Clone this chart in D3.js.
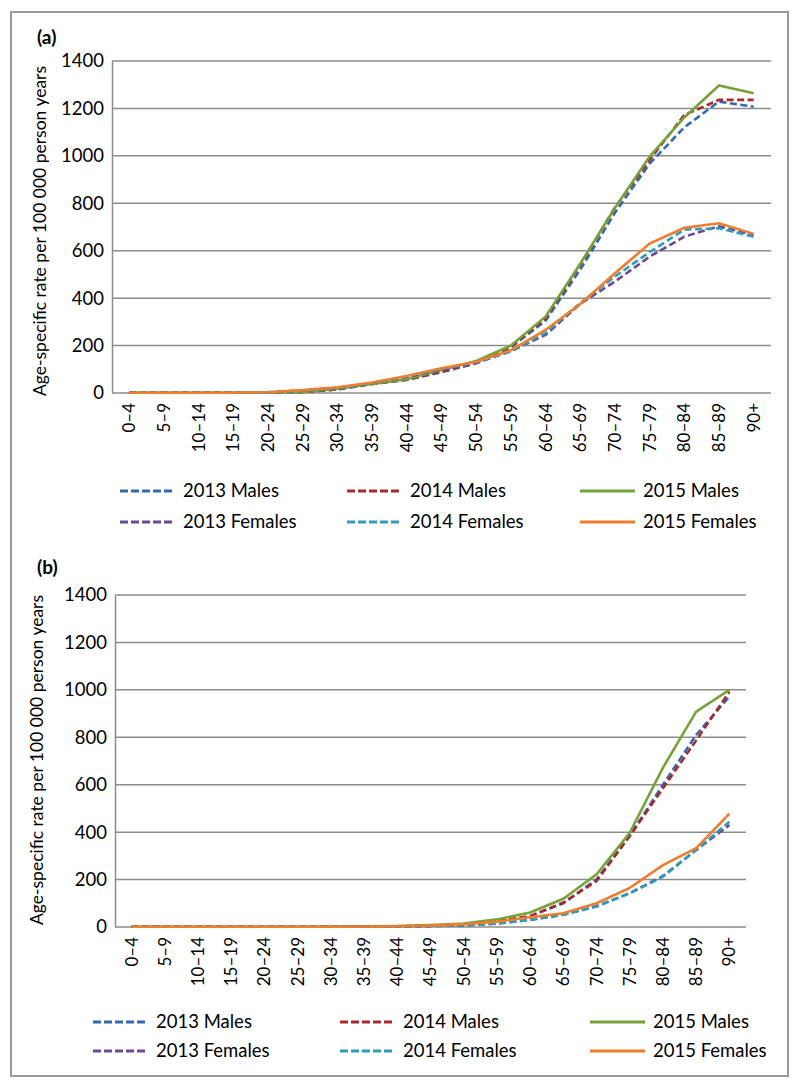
<!DOCTYPE html>
<html>
<head>
<meta charset="utf-8">
<script src="https://cdn.jsdelivr.net/npm/d3@7"></script>
<style>
  html, body { margin: 0; padding: 0; background: #fff; }
  svg { display: block; }
  text { font-family: Lato, "Open Sans", "Liberation Sans", sans-serif; fill: #000; }
</style>
</head>
<body>
<svg id="chart" width="800" height="1087"></svg>
<script>
// ---- Data ----
const ageGroups = ["0–4","5–9","10–14","15–19","20–24","25–29","30–34","35–39","40–44","45–49",
                   "50–54","55–59","60–64","65–69","70–74","75–79","80–84","85–89","90+"];
const yTicks = [0, 200, 400, 600, 800, 1000, 1200, 1400];
const seriesNames = ["2013 Males","2014 Males","2015 Males","2013 Females","2014 Females","2015 Females"];
const seriesColors = ["#3268B0","#A8282B","#77A23A","#6A4A94","#2E9CBB","#EE7D2E"];
const seriesDashed = [true, true, false, true, true, false];

// Panel (a)
const a2013Males   = [1,1,1,1,2,4,15,38,55,88,125,192,305,520,760,967,1120,1229,1207];
const a2014Males   = [1,1,1,1,2,4,15,38,56,90,127,196,315,540,782,983,1172,1236,1236];
const a2015Males   = [1,1,1,1,2,4,18,38,58,97,135,200,322,545,780,997,1162,1297,1264];
const a2013Females = [1,1,1,1,3,10,22,42,68,98,127,176,245,376,470,575,659,703,666];
const a2014Females = [1,1,1,1,3,10,22,42,70,102,130,176,253,380,491,594,689,695,659];
const a2015Females = [1,1,1,1,3,12,24,44,72,104,132,180,266,375,505,630,697,716,671];

// Panel (b)
const b2013Males   = [1,1,1,1,1,1,1,2,3,5,8,22,46,100,201,385,600,810,972];
const b2014Males   = [1,1,1,1,1,1,1,2,3,5,8,24,46,103,194,384,585,787,992];
const b2015Males   = [1,1,1,1,1,1,2,3,4,8,15,32,61,119,222,397,672,908,1000];
const b2013Females = [1,1,1,1,1,1,1,2,3,4,7,14,30,52,88,143,215,325,430];
const b2014Females = [1,1,1,1,1,1,1,2,3,4,7,15,30,52,86,142,212,325,444];
const b2015Females = [1,1,1,1,1,1,1,2,3,6,12,22,41,58,100,165,261,332,478];

const yLabelText = "Age-specific rate per 100 000 person years";

// ---- Drawing ----
const svg = d3.select("#chart");

// outer border
svg.append("rect")
  .attr("x", 11).attr("y", 12).attr("width", 777).attr("height", 1064)
  .attr("fill", "none").attr("stroke", "#9a9a9a").attr("stroke-width", 2);

function drawPanel(cfg) {
  const g = svg.append("g");
  const x = d3.scaleBand().domain(ageGroups).range([cfg.left, cfg.right]);
  const y = d3.scaleLinear().domain([0, 1400]).range([cfg.bottom, cfg.top]);

  // gridlines
  g.append("g").selectAll("line").data(yTicks).join("line")
    .attr("x1", cfg.left).attr("x2", cfg.right)
    .attr("y1", d => y(d)).attr("y2", d => y(d))
    .attr("stroke", "#8c8c8c").attr("stroke-width", 1.5);

  // y axis
  const yAxis = g.append("g").attr("transform", `translate(${cfg.left},0)`)
    .call(d3.axisLeft(y).tickValues(yTicks).tickSize(0).tickPadding(8).tickFormat(d3.format("d")));
  yAxis.select(".domain").attr("stroke", "#8c8c8c").attr("stroke-width", 1.5);
  yAxis.selectAll("text").style("font-size", "18.5px").style("font-family", "Lato, sans-serif");

  // x axis labels
  const xAxis = g.append("g").attr("transform", `translate(0,${cfg.bottom})`)
    .call(d3.axisBottom(x).tickSize(0).tickPadding(0));
  xAxis.select(".domain").remove();
  xAxis.selectAll("text")
    .style("font-size", "17px").style("font-family", "Lato, sans-serif")
    .attr("text-anchor", "end")
    .attr("dy", "0.35em")
    .attr("transform", "translate(0,10) rotate(-90)")
    .attr("x", 0).attr("y", 0);

  // panel label
  g.append("text").attr("x", cfg.labelX).attr("y", cfg.labelY)
    .style("font-size", "19px").style("font-weight", "bold").text(cfg.label);

  // y title
  g.append("text")
    .attr("transform", `translate(${cfg.titleX},${cfg.titleY}) rotate(-90)`)
    .attr("text-anchor", "middle").attr("dy", "0.35em")
    .style("font-size", "17.5px")
    .text(yLabelText);

  // lines
  const line = d3.line()
    .x((d, i) => x(ageGroups[i]) + x.bandwidth() / 2)
    .y(d => y(d));
  cfg.series.forEach((vals, k) => {
    g.append("path").datum(vals)
      .attr("d", line)
      .attr("fill", "none")
      .attr("stroke", seriesColors[k])
      .attr("stroke-width", 2.6)
      .attr("stroke-dasharray", seriesDashed[k] ? "7,3.5" : null);
  });

  // legend
  seriesNames.forEach((name, k) => {
    const col = k % 3, row = Math.floor(k / 3);
    const lx = cfg.legendX[col], ly = cfg.legendY[row];
    g.append("line")
      .attr("x1", lx).attr("x2", lx + 55).attr("y1", ly).attr("y2", ly)
      .attr("stroke", seriesColors[k]).attr("stroke-width", 3)
      .attr("stroke-dasharray", seriesDashed[k] ? "8,3" : null);
    g.append("text").attr("x", lx + 63).attr("y", ly).attr("dy", "0.35em")
      .style("font-size", "18.5px").text(name);
  });
}

drawPanel({
  left: 112, right: 771, top: 61, bottom: 393,
  label: "(a)", labelX: 37, labelY: 44,
  titleX: 40, titleY: 231,
  legendX: [120, 347, 580], legendY: [491, 522],
  series: [a2013Males, a2014Males, a2015Males, a2013Females, a2014Females, a2015Females]
});

drawPanel({
  left: 115, right: 746, top: 595, bottom: 927,
  label: "(b)", labelX: 37, labelY: 574,
  titleX: 37, titleY: 760,
  legendX: [93, 340, 590], legendY: [1022, 1051],
  series: [b2013Males, b2014Males, b2015Males, b2013Females, b2014Females, b2015Females]
});
</script>
</body>
</html>
